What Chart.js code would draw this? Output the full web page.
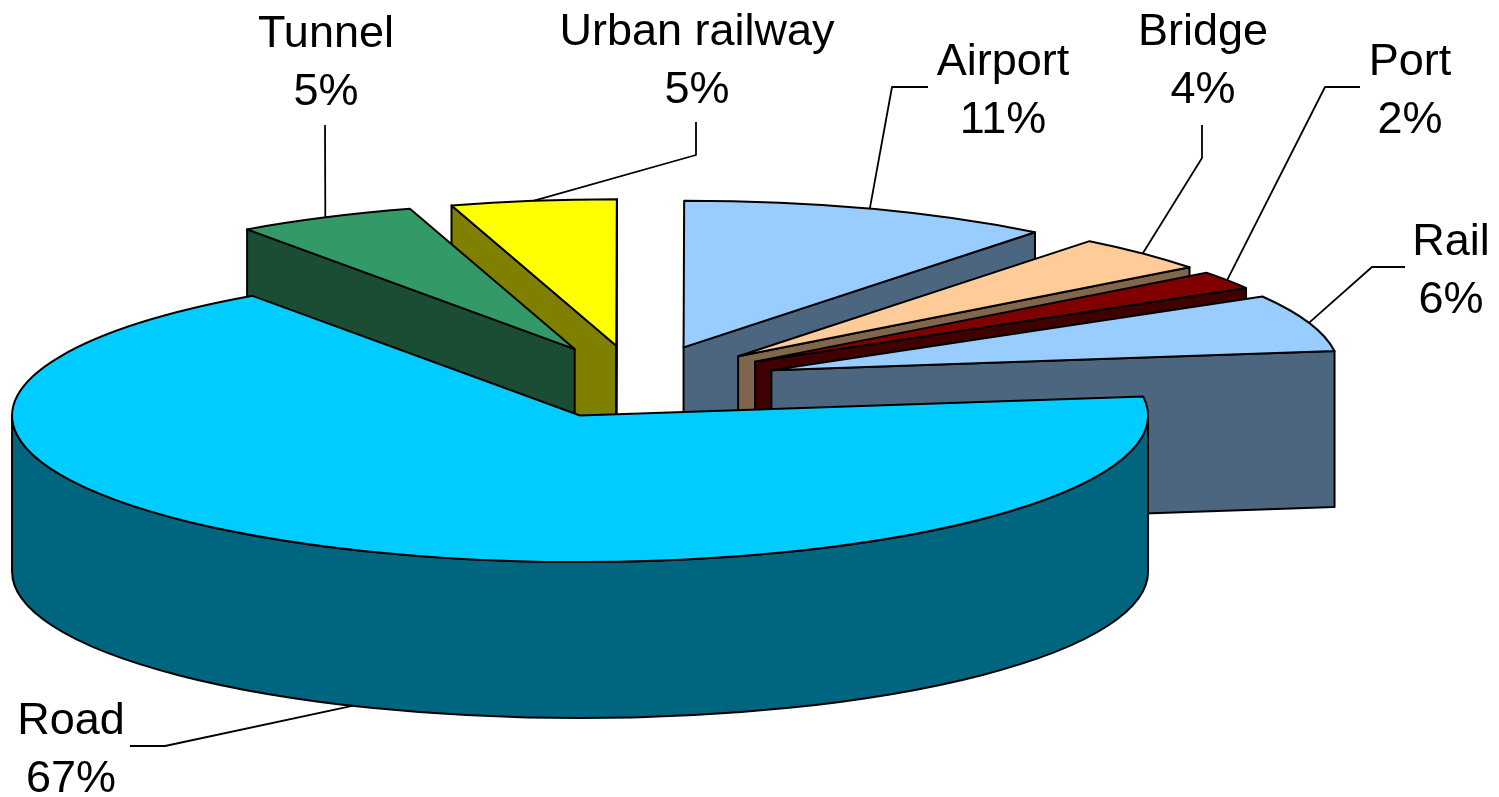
<!DOCTYPE html>
<html><head><meta charset="utf-8">
<style>html,body{margin:0;padding:0;background:#fff}canvas{display:block}</style>
<script src="https://cdn.jsdelivr.net/npm/chart.js@4"></script>
</head><body>
<canvas id="c" width="1499" height="797" style="width:1499px;height:797px"></canvas>
<script>
const categories = ['Road','Tunnel','Urban railway','Airport','Bridge','Port','Rail'];
const shares = [67.3,5.1,4.7,10.6,4.0,2.0,6.3];
const topColors = ['#00CCFF','#339966','#FFFF00','#99CCFF','#FFCC99','#800000','#99CCFF'];
const sideColors = ['#006680','#1A4D33','#808000','#4D6680','#80664D','#400000','#4D6680'];
const explodeBy = [142,142,142,142,142,142,142];
const paintOrder = [2,1,3,4,5,6,0];
// label centre x, first-line baseline y, leader elbows after the slice anchor
const labelLayout = [
 {x:71,y:734,leader:[[165,746],[130,746]]},
 {x:326,y:47,leader:[[325,125]]},
 {x:697,y:45,leader:[[696,155],[696,122]]},
 {x:1003,y:75,leader:[[892,87],[928,87]]},
 {x:1203,y:45,leader:[[1202,158],[1202,125]]},
 {x:1410,y:75,leader:[[1325,87],[1360,87]]},
 {x:1451,y:255,leader:[[1372,267],[1405,267]]}
];
const SQUASH = 0.258, DEPTH = 156, RX = 568;

const pie3d = {
 id:'pie3d',
 beforeDatasetDraw(chart,args){
  const ctx = chart.ctx, arcs = chart.getDatasetMeta(args.index).data;
  ctx.lineWidth = 2; ctx.strokeStyle = '#000'; ctx.lineJoin = 'round';
  for(const i of paintOrder){
   const a = arcs[i], s = a.startAngle, e = a.endAngle, mid = (s+e)/2;
   const ox = a.x + Math.cos(mid)*explodeBy[i], oy = a.y + Math.sin(mid)*explodeBy[i]*SQUASH;
   const r = a.outerRadius, ry = r*SQUASH;
   const px = t => ox + r*Math.cos(t), py = t => oy + ry*Math.sin(t);
   ctx.fillStyle = sideColors[i];
   const wall = t => {
     ctx.beginPath(); ctx.moveTo(ox,oy); ctx.lineTo(px(t),py(t));
     ctx.lineTo(px(t),py(t)+DEPTH); ctx.lineTo(ox,oy+DEPTH); ctx.closePath();
     ctx.fill(); ctx.stroke();
   };
   if(Math.cos(s) < 0) wall(s);
   if(Math.cos(e) > 1e-6) wall(e);
   const a0 = Math.max(s,0), a1 = Math.min(e,Math.PI);
   if(a1 > a0){
     ctx.beginPath();
     ctx.ellipse(ox,oy,r,ry,0,a0,a1);
     ctx.ellipse(ox,oy+DEPTH,r,ry,0,a1,a0,true);
     ctx.closePath(); ctx.fill(); ctx.stroke();
   }
   // top face: the library's arc element, flattened
   ctx.save();
   ctx.translate(ox,oy); ctx.scale(1,SQUASH); ctx.translate(-a.x,-a.y);
   a.draw(ctx);
   ctx.restore();
   ctx.beginPath(); ctx.moveTo(ox,oy); ctx.ellipse(ox,oy,r,ry,0,s,e); ctx.closePath(); ctx.stroke();
  }
  return false;
 },
 afterDatasetsDraw(chart){
  const ctx = chart.ctx, arcs = chart.getDatasetMeta(0).data;
  arcs.forEach((a,i)=>{
   const L = labelLayout[i], mid = (a.startAngle+a.endAngle)/2;
   const ox = a.x + Math.cos(mid)*explodeBy[i], oy = a.y + Math.sin(mid)*explodeBy[i]*SQUASH;
   const ax = ox + a.outerRadius*Math.cos(mid);
   const ay = oy + a.outerRadius*SQUASH*Math.sin(mid) + (Math.sin(mid)>0?DEPTH:0);
   ctx.strokeStyle='#000'; ctx.lineWidth=1.8;
   ctx.beginPath(); ctx.moveTo(ax,ay); L.leader.forEach(p=>ctx.lineTo(p[0],p[1])); ctx.stroke();
   ctx.fillStyle='#000'; ctx.font='45px "Liberation Sans", Arial, sans-serif';
   ctx.textAlign='center'; ctx.textBaseline='alphabetic';
   ctx.fillText(categories[i],L.x,L.y);
   ctx.fillText(Math.round(shares[i])+'%',L.x,L.y+58);
  });
 }
};

new Chart(document.getElementById('c'),{
 type:'pie',
 data:{labels:categories,datasets:[{data:shares,backgroundColor:topColors,borderWidth:0,clip:false}]},
 options:{
  responsive:false,animation:false,
  radius:RX,rotation:82.5,
  layout:{padding:{left:0,top:0,right:225,bottom:33}},
  plugins:{legend:{display:false},tooltip:{enabled:false},title:{display:false}}
 },
 plugins:[pie3d]
});
</script>
</body></html>
